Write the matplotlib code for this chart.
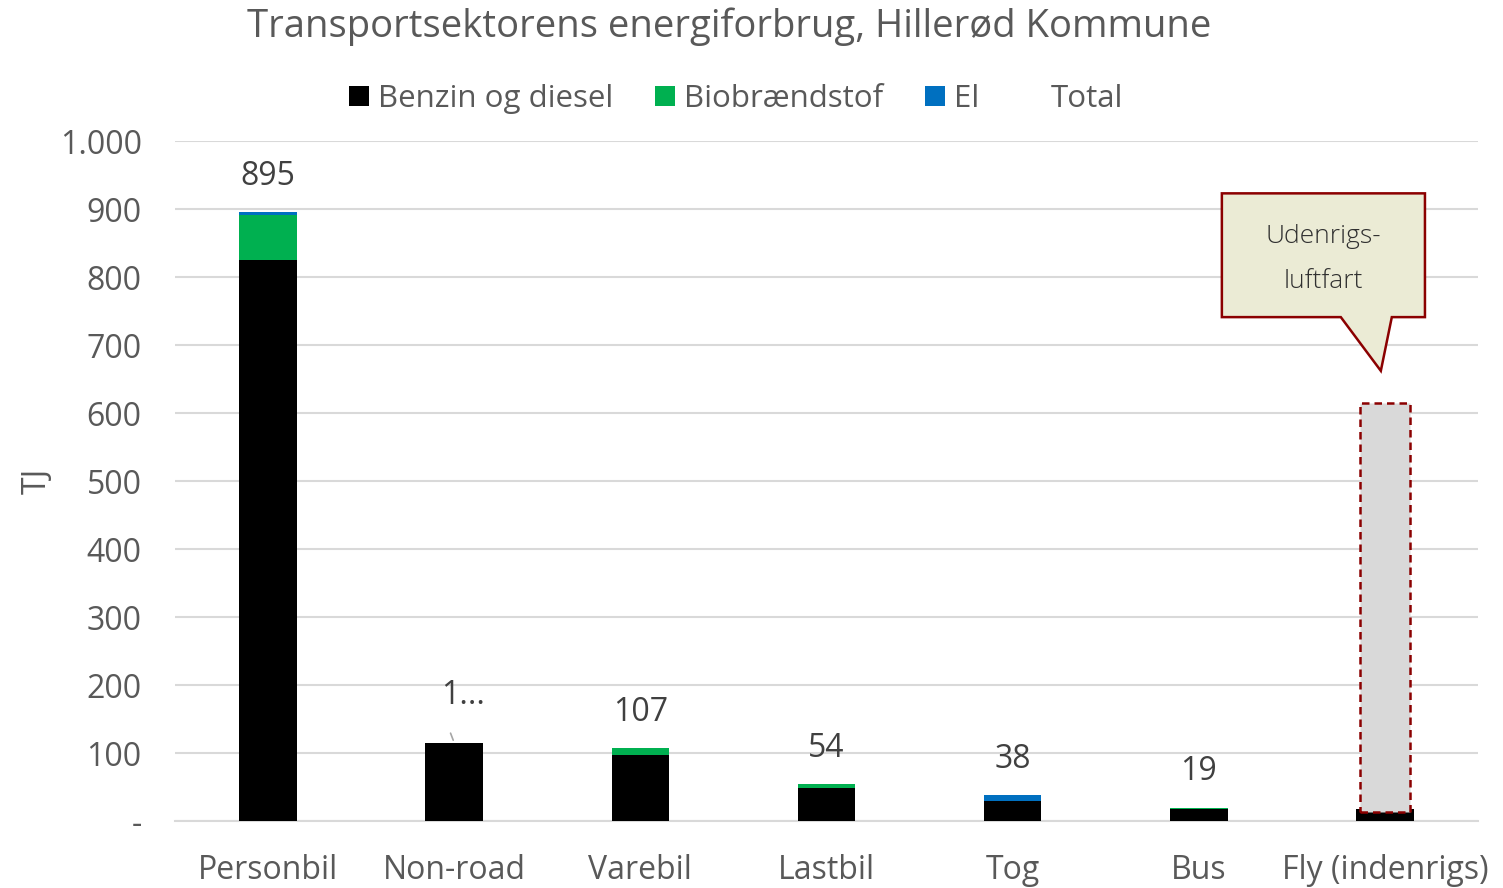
import matplotlib.pyplot as plt
import matplotlib.ticker as mticker
from matplotlib.patches import Polygon, Patch
import numpy as np

plt.rcParams['font.family'] = ['Open Sans', 'DejaVu Sans']

# data (TJ)
categories = ['Personbil', 'Non-road', 'Varebil', 'Lastbil', 'Tog', 'Bus', 'Fly (indenrigs)']
benzin = [825, 115, 97, 49, 30, 18, 17]
bio = [66, 0, 10, 5, 0, 1, 0]
el = [4, 0, 0, 0, 8, 0, 0]
total_labels = ['895', '1...', '107', '54', '38', '19', '']
udenrigs_bottom = 13
udenrigs = 602

TXT = '#595959'
x = np.arange(len(categories))

fig = plt.figure(figsize=(15.03, 8.88), dpi=100)
ax = fig.add_axes([175/1503, 1-821/888, 1303/1503, 680/888])

w = 0.31
ax.bar(x, benzin, w, color='black', label='Benzin og diesel', zorder=3)
ax.bar(x, bio, w, bottom=benzin, color='#00B050', label='Biobrændstof', zorder=3)
bot2 = np.array(benzin) + np.array(bio)
ax.bar(x, el, w, bottom=bot2, color='#0070C0', label='El', zorder=3)
tops = bot2 + np.array(el)

# labels
for i, lab in enumerate(total_labels):
    if not lab:
        continue
    if lab == '1...':
        ax.annotate(lab, (x[i], tops[i]), xytext=(6, 34), textcoords='offset points',
                    ha='center', va='center', fontsize=23, color='#404040')
        ax.annotate('', (x[i], tops[i]), xytext=(x[i] - 0.025, tops[i] + 18),
                    arrowprops=dict(arrowstyle='-', color='#A6A6A6', lw=1.2))
    else:
        ax.annotate(lab, (x[i], tops[i]), xytext=(0, 26), textcoords='offset points',
                    ha='center', va='center', fontsize=23, color='#404040')

# udenrigs luftfart box
ax.bar(x[-1], udenrigs, 0.27, bottom=udenrigs_bottom, color='#D9D9D9',
       edgecolor='#8B0000', linestyle=(0, (3, 2)), linewidth=1.8, zorder=4)

# callout
call = Polygon([(5.124, 923), (6.215, 923), (6.215, 741), (6.037, 741), (5.978, 662),
                (5.763, 741), (5.124, 741)], closed=True, facecolor='#EBEBD5',
               edgecolor='#8B0000', linewidth=1.8, zorder=5, clip_on=False)
ax.add_patch(call)
ax.text(5.667, 860, 'Udenrigs-', ha='center', va='center', fontsize=19,
        color='#303030', fontweight='light', zorder=6)
ax.text(5.667, 794, 'luftfart', ha='center', va='center', fontsize=19,
        color='#303030', fontweight='light', zorder=6)

ax.set_xlim(-0.5, 6.5)
ax.set_ylim(0, 1000)
ax.set_yticks(np.arange(0, 1001, 100))
ax.yaxis.set_major_formatter(mticker.FuncFormatter(
    lambda v, p: '-' if v == 0 else f'{int(v):,}'.replace(',', '.')))
ax.set_xticks(x)
ax.set_xticklabels(categories)
ax.tick_params(axis='both', length=0, labelsize=23, labelcolor=TXT)
ax.tick_params(axis='x', pad=24)
ax.tick_params(axis='y', pad=24)
ax.grid(axis='y', color='#D9D9D9', linewidth=1.5, zorder=0)
for s in ['top', 'right', 'left']:
    ax.spines[s].set_visible(False)
ax.spines['bottom'].set_color('#D9D9D9')
ax.spines['bottom'].set_linewidth(1.5)
ax.set_ylabel('TJ', fontsize=23, color=TXT, labelpad=4)

handles, labels = ax.get_legend_handles_labels()
handles.append(Patch(facecolor='none', edgecolor='none'))
labels.append('Total')
fig.legend(handles, labels, loc='center', bbox_to_anchor=(736/1503, 1-99/888), ncol=4,
           frameon=False, fontsize=22.5, labelcolor=TXT, handlelength=0.62, handleheight=0.62,
           handletextpad=0.3, columnspacing=1.35)

fig.suptitle('Transportsektorens energiforbrug, Hillerød Kommune', x=729/1503, y=1-27/888,
             va='center', fontsize=27.5, color=TXT)

fig.savefig('out.png', dpi=100)
